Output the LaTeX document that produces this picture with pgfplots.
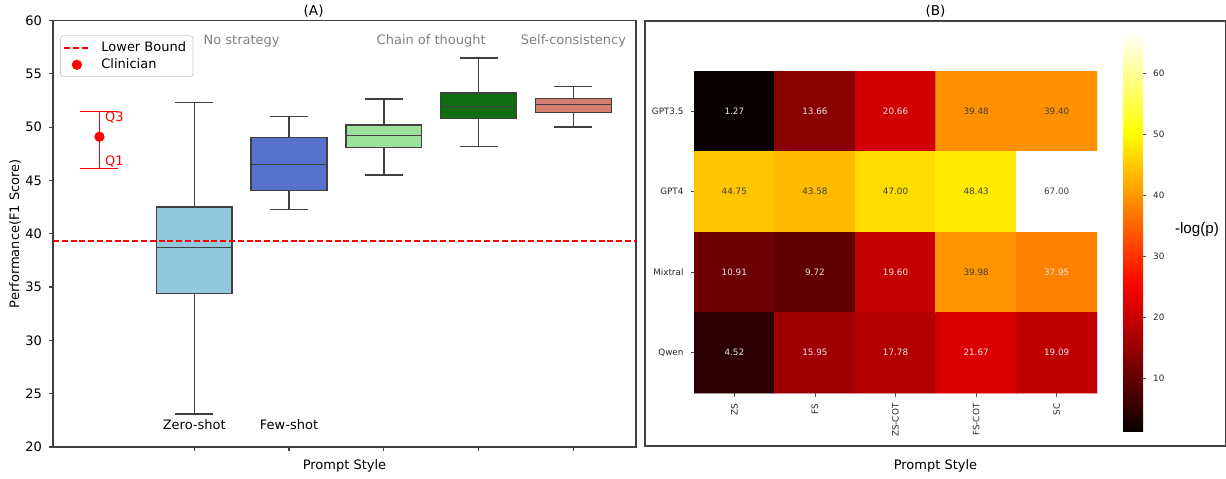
\documentclass[border=0pt]{standalone}
\usepackage{fontspec}
\setmainfont{DejaVu Sans}
\newfontfamily\arialfont{Liberation Sans}
\usepackage{pgfplots}
\usepackage{pgfplotstable}
\usepgfplotslibrary{statistics}
\pgfplotsset{compat=1.18}

\definecolor{zsblue}{RGB}{147,201,222}
\definecolor{fsblue}{RGB}{85,115,205}
\definecolor{zcgreen}{RGB}{156,226,156}
\definecolor{fcgreen}{RGB}{16,108,16}
\definecolor{scsalmon}{RGB}{213,125,110}

\newcommand{\fa}{\fontsize{6.5}{7.8}\selectfont}
\newcommand{\ft}{\fontsize{6.8}{8.2}\selectfont}
\newcommand{\fb}{\fontsize{4.4}{5.3}\selectfont}

% heatmap: x = prompt style, y = model, c = -log(p)
\pgfplotstableread{
x y c
0 0 1.27
1 0 13.66
2 0 20.66
3 0 39.48
4 0 39.40
0 1 44.75
1 1 43.58
2 1 47.00
3 1 48.43
4 1 67.00
0 2 10.91
1 2 9.72
2 2 19.60
3 2 39.98
4 2 37.95
0 3 4.52
1 3 15.95
2 3 17.78
3 3 21.67
4 3 19.09
}\heat

\begin{document}
\begin{tikzpicture}
\useasboundingbox (0,0) rectangle (613pt,239pt);

% ---- (A) box plots
\begin{axis}[
  at={(26.5pt,15.5pt)}, anchor=south west, scale only axis,
  width=291.5pt, height=213.25pt,
  xmin=-0.49, xmax=5.66, ymin=20, ymax=60,
  xtick={1,2,3,4,5}, xticklabels={},
  ytick={20,25,...,60},
  tick align=outside, major tick length=2pt,
  xtick pos=left, ytick pos=left,
  tick style={black!75, line width=0.6pt},
  axis line style={black!75, line width=0.6pt},
  ticklabel style={font=\fa},
  /pgf/number format/assume math mode=true,
  xlabel={Prompt Style}, ylabel={Performance(F1 Score)},
  label style={font=\fa},
  xlabel style={at={(axis description cs:0.5,-0.0445)}, anchor=center},
  ylabel style={at={(axis description cs:-0.0652,0.5)}, anchor=center},
  title={(A)},
  title style={at={(axis description cs:0.447,1.0269)}, anchor=center, font=\ft, yshift=-7pt},
  legend style={at={(0.012,0.965)}, anchor=north west, draw=black!20,
    rounded corners=1.5pt, font=\fa, inner xsep=1.5pt, inner ysep=0.8pt,
    row sep=-2pt, fill=white,
    /tikz/every odd column/.append style={column sep=3.5pt}},
  legend cell align=left,
  boxplot/draw direction=y,
  boxplot/box extend=0.8, boxplot/whisker extend=0.4,
  boxplot/every median/.style={draw=black!75, line width=0.75pt},
]
\addplot[boxplot prepared={lower whisker=23.1, lower quartile=34.4, median=38.7,
  upper quartile=42.5, upper whisker=52.3, draw position=1},
  draw=black!75, fill=zsblue, line width=0.7pt, forget plot] coordinates {};
\addplot[boxplot prepared={lower whisker=42.3, lower quartile=44.05, median=46.5,
  upper quartile=49.05, upper whisker=51.0, draw position=2},
  draw=black!75, fill=fsblue, line width=0.7pt, forget plot] coordinates {};
\addplot[boxplot prepared={lower whisker=45.5, lower quartile=48.1, median=49.2,
  upper quartile=50.2, upper whisker=52.65, draw position=3},
  draw=black!75, fill=zcgreen, line width=0.7pt, forget plot] coordinates {};
\addplot[boxplot prepared={lower whisker=48.2, lower quartile=50.8, median=51.95,
  upper quartile=53.2, upper whisker=56.5, draw position=4},
  draw=black!75, fill=fcgreen, line width=0.7pt, forget plot] coordinates {};
\addplot[boxplot prepared={lower whisker=50.0, lower quartile=51.4, median=52.1,
  upper quartile=52.7, upper whisker=53.8, draw position=5},
  draw=black!75, fill=scsalmon, line width=0.7pt, forget plot] coordinates {};

\addplot[red, line width=1pt, dash pattern=on 3pt off 1.4pt,
  legend image code/.code={\draw[red, line width=1pt, dash pattern=on 3pt off 1.4pt] (0pt,0pt) -- (12.5pt,0pt);}]
  coordinates {(-0.49,39.35) (5.66,39.35)};
\addlegendentry{Lower Bound}

\addplot[red, only marks, mark=*, mark size=2.35pt, mark options={fill=red, draw=red},
  legend image code/.code={\fill[red] (6.25pt,0pt) circle[radius=2.35pt];},
  error bars/.cd, y dir=both, y explicit,
  error bar style={draw=red, line width=0.55pt},
  error mark options={rotate=90, draw=red, line width=0.55pt, mark size=9.5pt}]
  coordinates {(0,49.1) += (0,2.4) -= (0,3.0)};
\addlegendentry{Clinician}

\node[font=\fa, text=red, anchor=west] at (axis cs:-0.015,50.9) {Q3};
\node[font=\fa, text=red, anchor=west] at (axis cs:-0.015,46.8) {Q1};
\node[font=\fa, text=gray] at (axis cs:1.5,58.1) {No strategy};
\node[font=\fa, text=gray] at (axis cs:3.5,58.1) {Chain of thought};
\node[font=\fa, text=gray] at (axis cs:5.0,58.1) {Self-consistency};
\node[font=\fa] at (axis cs:1,22.1) {Zero-shot};
\node[font=\fa] at (axis cs:2,22.1) {Few-shot};
\end{axis}

% ---- (B) frame
\begin{axis}[
  at={(322.5pt,16pt)}, anchor=south west, scale only axis,
  width=290.5pt, height=212.5pt,
  xmin=0, xmax=1, ymin=0, ymax=1,
  xtick=\empty, ytick=\empty,
  axis line style={black!75, line width=0.6pt},
  xlabel={Prompt Style},
  xlabel style={at={(axis description cs:0.5,-0.047)}, anchor=center, font=\fa},
  title={(B)},
  title style={at={(axis description cs:0.5,1.028)}, anchor=center, font=\ft, yshift=-7pt},
]
\end{axis}

% ---- (B) heatmap
\begin{axis}[
  at={(347pt,42.5pt)}, anchor=south west, scale only axis,
  width=201.5pt, height=161pt,
  xmin=-0.5, xmax=4.5, ymin=-0.5, ymax=3.5, y dir=reverse,
  axis line style={draw=none},
  xtick={0,...,4}, xticklabels={ZS,FS,ZS-COT,FS-COT,SC},
  ytick={0,...,3}, yticklabels={GPT3.5,GPT4,Mixtral,Qwen},
  xtick pos=left, ytick pos=left,
  tick align=outside, major tick length=1.75pt,
  tick style={black!70, line width=0.4pt},
  ticklabel style={font=\fb, text=black!85},
  xticklabel style={rotate=90, anchor=east},
  /pgf/number format/assume math mode=true,
  colormap={hot}{rgb(0pt)=(0.0416,0,0) rgb(365pt)=(1,0,0) rgb(746pt)=(1,1,0) rgb(1000pt)=(1,1,1)},
  point meta min=1.27, point meta max=67,
  colorbar,
  colorbar style={
    at={(parent axis.north east)}, anchor=north west,
    xshift=4.5pt, yshift=20pt,
    scale only axis, width=10pt, height=200.25pt,
    ytick={10,20,...,60}, ytick pos=right, yticklabel pos=right,
    tick align=outside, major tick length=1.5pt,
    tick style={black!70, line width=0.4pt},
    axis line style={draw=none},
    ticklabel style={font=\fb, text=black!85},
    /pgf/number format/assume math mode=true,
  },
]
\addplot[matrix plot*, mesh/cols=5, point meta=explicit]
  table[x=x, y=y, meta=c] {\heat};
% cell labels, dark text on light cells
\addplot[draw=none, mark=none, point meta=explicit,
  restrict expr to domain={\thisrow{c}}{39:100},
  nodes near coords={\pgfmathprintnumber[fixed,zerofill,precision=2,assume math mode=true]{\pgfplotspointmeta}},
  nodes near coords align=center,
  every node near coord/.append style={font=\fb, text=black!75}]
  table[x=x, y=y, meta=c] {\heat};
% cell labels, light text on dark cells
\addplot[draw=none, mark=none, point meta=explicit,
  restrict expr to domain={\thisrow{c}}{0:39},
  nodes near coords={\pgfmathprintnumber[fixed,zerofill,precision=2,assume math mode=true]{\pgfplotspointmeta}},
  nodes near coords align=center,
  every node near coord/.append style={font=\fb, text=white!90!black}]
  table[x=x, y=y, meta=c] {\heat};
\end{axis}

\node[font=\arialfont\fontsize{7.6}{9}\selectfont] at (598.5pt,124pt) {-log(p)};
\end{tikzpicture}
\end{document}
